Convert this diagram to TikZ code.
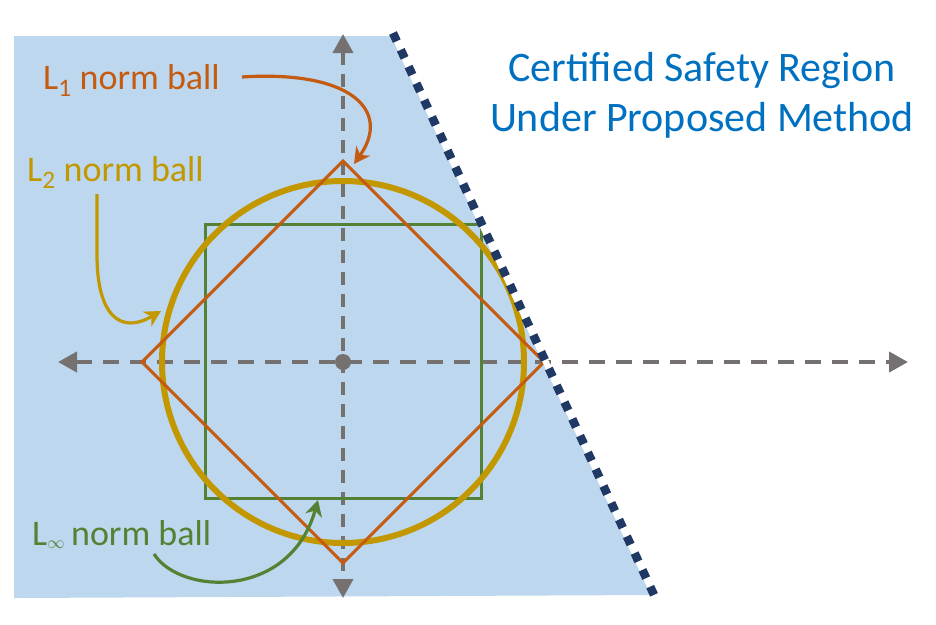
\documentclass[tikz,border=0pt]{standalone}
\usepackage{fontspec}
\setmainfont{Carlito}
\usetikzlibrary{arrows.meta}
\definecolor{regionblue}{HTML}{BDD7EE}
\definecolor{edgenavy}{HTML}{1F3864}
\definecolor{axisgray}{HTML}{767171}
\definecolor{lonecol}{HTML}{C55A11}
\definecolor{ltwocol}{HTML}{C29700}
\definecolor{linfcol}{HTML}{548235}
\definecolor{titleblue}{HTML}{0070C0}
\begin{document}
\begin{tikzpicture}[x=1pt, y=-1pt,
	axis/.style={draw=axisgray, line width=4pt, dash pattern=on 16pt off 11pt,
		{Triangle[length=19pt,width=20pt]}-{Triangle[length=19pt,width=20pt]}},
	pointer/.style={line width=3.2pt, -{Stealth[length=16pt,width=17pt,inset=5pt]}},
	lab/.style={anchor=base west, inner sep=0pt, font=\fontsize{36}{43}\selectfont}]
	\useasboundingbox (0,0) rectangle (936,624);
	% safety region
	\coordinate (T) at (393,33);
	\coordinate (B) at (655,597);
	\fill[regionblue] (14,36) -- (394.4,36) -- (653,595) -- (14,598) -- cycle;
	% axes
	\coordinate (O) at (343,362);
	\coordinate (xl) at (58,362);
	\coordinate (xr) at (908,362);
	\coordinate (yt) at (343,34);
	\coordinate (yb) at (343,598);
	\draw[axis] (xl) -- (xr);
	\draw[axis, dash pattern=on 13pt off 9pt] (yt) -- (yb);
	% balls
	\draw[linfcol, line width=3pt] (205,224) rectangle (481,498);
	\draw[ltwocol, line width=6pt] (O) circle (181);
	\draw[lonecol, line width=3pt, line join=miter] (142,362) -- (343,161) -- (544,362) -- (343,563) -- cycle;
	\fill[axisgray] (O) circle (8);
	% boundary
	\draw[white, line width=6pt] (T) -- (B);
	\draw[edgenavy, line width=8.5pt, dash pattern=on 9pt off 9.5pt] (T) -- (B);
	% labels
	\node[titleblue, align=center, inner sep=0pt, font=\fontsize{42}{50}\selectfont] (title) at (702,95)
		{Certified Safety Region\\Under Proposed Method};
	\node[lab, lonecol] (l1) at (43,89) {L\textsubscript{1} norm ball};
	\node[lab, ltwocol] (l2) at (27,181) {L\textsubscript{2} norm ball};
	\node[lab, linfcol] (linf) at (32,545) {L$_{\scriptscriptstyle\infty}$\,norm ball};
	% pointers
	\coordinate (l1from) at (242,77);
	\coordinate (l1tip) at (354,164);
	\coordinate (l2from) at (97,194);
	\coordinate (l2tip) at (161,311);
	\coordinate (linffrom) at (154,554);
	\coordinate (linftip) at (318,500);
	\draw[pointer, lonecol] (l1from) .. controls (350,70) and (392,110) .. (l1tip);
	\draw[pointer, ltwocol] (l2from) -- (97,255) .. controls (97,315) and (120,335) .. (l2tip);
	\draw[pointer, linfcol] (linffrom) .. controls (180,595) and (290,600) .. (linftip);
\end{tikzpicture}
\end{document}
